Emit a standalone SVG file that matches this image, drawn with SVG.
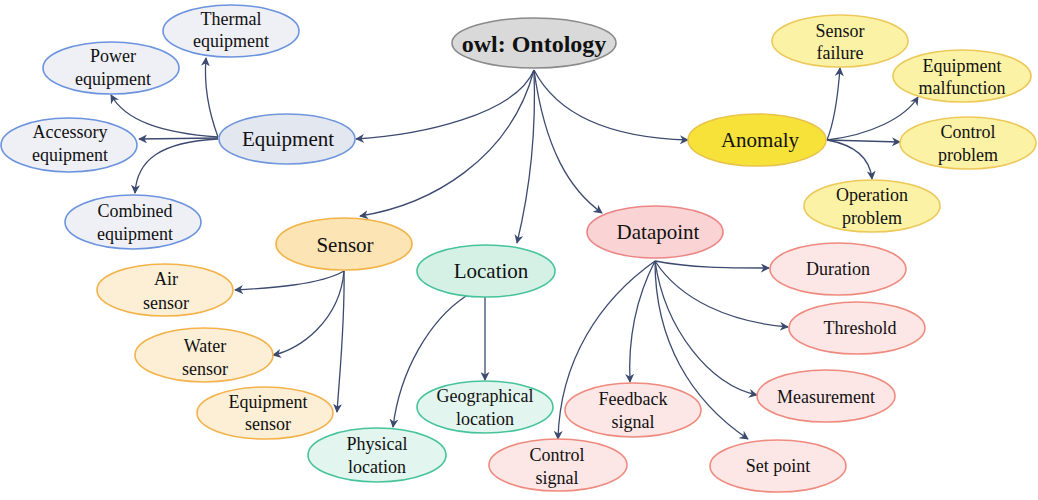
<svg xmlns="http://www.w3.org/2000/svg" width="1038" height="500" viewBox="0 0 1038 500">
<style>
ellipse{stroke-width:1.6}
.gray{fill:#d9d9d9;stroke:#8a8a8a}
.eq{fill:#e3e7f0;stroke:#7096dc}
.eqs{fill:#eef0f6;stroke:#6b93de}
.an{fill:#f7e23a;stroke:#e9c44a}
.ans{fill:#fbf2a6;stroke:#edc95a}
.se{fill:#fde4b5;stroke:#f2b347}
.ses{fill:#fdefd6;stroke:#f3b24a}
.lo{fill:#d5f1e6;stroke:#47c39c}
.los{fill:#e2f5ee;stroke:#47c39c}
.da{fill:#fad4d4;stroke:#ec8585}
.das{fill:#fde6e6;stroke:#ef8a7e}
.c path{fill:none;stroke:#3b4a6e;stroke-width:1.3;marker-end:url(#ah)}
</style>
<defs>
<marker id="ah" viewBox="0 0 10 10" refX="9" refY="5" markerWidth="9" markerHeight="9" markerUnits="userSpaceOnUse" orient="auto">
<path d="M0,0 L10,5 L0,10 L3,5 z" fill="#3b4a6e"/>
</marker>
</defs>
<g id="connectors" class="c">
<path d="M534,70 C515,115 420,135 356,139"/>
<path d="M534,70 C510,160 430,205 360,216"/>
<path d="M534,70 C537,150 525,210 517,243"/>
<path d="M534,70 C545,150 570,190 602,213"/>
<path d="M534,70 C560,120 620,138 688,140"/>
<path d="M218,137 C208,110 204,82 206,58"/>
<path d="M218,137 C160,133 125,120 111,95"/>
<path d="M218,138 L139,139"/>
<path d="M218,139 C160,142 137,160 135,193"/>
<path d="M827,140 C835,120 838,95 840,68"/>
<path d="M827,140 C870,135 905,118 918,97"/>
<path d="M827,140 L900,142"/>
<path d="M827,140 C855,145 870,158 872,179"/>
<path d="M344,271 C320,285 270,288 235,290"/>
<path d="M344,271 C340,320 300,350 273,355"/>
<path d="M344,271 C345,320 340,370 337,412"/>
<path d="M485,297 L485,380"/>
<path d="M466,296 C430,320 400,370 393,427"/>
<path d="M655,261 C690,268 730,268 769,268"/>
<path d="M655,261 C680,300 730,322 788,327"/>
<path d="M655,261 C665,330 710,385 757,395"/>
<path d="M655,261 C655,340 690,400 748,439"/>
<path d="M655,261 C635,300 628,340 630,382"/>
<path d="M655,261 C600,300 560,360 558,439"/>
</g>
<g font-family="'Liberation Serif', 'Times New Roman', Times, serif" font-weight="normal" font-style="normal" text-anchor="middle" fill="#111" font-size="18">
<g id="ontology"><ellipse class="gray" cx="534" cy="43" rx="82" ry="25"/><text x="534" y="52" font-size="24" font-weight="bold">owl: Ontology</text></g>
<g id="equipment"><ellipse class="eq" cx="287" cy="139" rx="68" ry="25"/><text font-size="21" x="288" y="146">Equipment</text></g>
<g id="thermal"><ellipse class="eqs" cx="231" cy="31" rx="68" ry="26"/><text x="231" y="25">Thermal</text><text x="231" y="47">equipment</text></g>
<g id="power"><ellipse class="eqs" cx="111" cy="68" rx="68" ry="26"/><text x="113" y="62">Power</text><text x="113" y="85">equipment</text></g>
<g id="accessory"><ellipse class="eqs" cx="69" cy="145" rx="68" ry="27"/><text x="70" y="138">Accessory</text><text x="70" y="161">equipment</text></g>
<g id="combined"><ellipse class="eqs" cx="133" cy="222" rx="68" ry="27"/><text x="135" y="217">Combined</text><text x="135" y="240">equipment</text></g>
<g id="anomaly"><ellipse class="an" cx="757" cy="140" rx="69" ry="26"/><text font-size="21" x="760" y="147">Anomaly</text></g>
<g id="sensorfailure"><ellipse class="ans" cx="840" cy="41" rx="68" ry="26"/><text x="840" y="37">Sensor</text><text x="840" y="59">failure</text></g>
<g id="malfunction"><ellipse class="ans" cx="962" cy="76" rx="69" ry="26"/><text x="962" y="72">Equipment</text><text x="962" y="94">malfunction</text></g>
<g id="controlproblem"><ellipse class="ans" cx="968" cy="143" rx="68" ry="26"/><text x="968" y="138">Control</text><text x="968" y="161">problem</text></g>
<g id="operation"><ellipse class="ans" cx="872" cy="206" rx="68" ry="26"/><text x="872" y="201">Operation</text><text x="872" y="224">problem</text></g>
<g id="sensor"><ellipse class="se" cx="344" cy="244" rx="68" ry="26"/><text font-size="21" x="345" y="252">Sensor</text></g>
<g id="airsensor"><ellipse class="ses" cx="165" cy="290" rx="68" ry="26"/><text x="166" y="285">Air</text><text x="166" y="309">sensor</text></g>
<g id="watersensor"><ellipse class="ses" cx="204" cy="355" rx="69" ry="27"/><text x="205" y="352">Water</text><text x="205" y="375">sensor</text></g>
<g id="equipmentsensor"><ellipse class="ses" cx="265" cy="413" rx="68" ry="26"/><text x="268" y="408">Equipment</text><text x="268" y="430">sensor</text></g>
<g id="location"><ellipse class="lo" cx="486" cy="271" rx="69" ry="26"/><text font-size="21" x="491" y="278">Location</text></g>
<g id="geographical"><ellipse class="los" cx="485" cy="407" rx="68" ry="26"/><text x="485" y="402">Geographical</text><text x="485" y="425">location</text></g>
<g id="physical"><ellipse class="los" cx="377" cy="455" rx="69" ry="27"/><text x="377" y="450">Physical</text><text x="377" y="473">location</text></g>
<g id="datapoint"><ellipse class="da" cx="655" cy="232" rx="68" ry="26"/><text font-size="21" x="658" y="239">Datapoint</text></g>
<g id="duration"><ellipse class="das" cx="838" cy="269" rx="68" ry="26"/><text x="838" y="275">Duration</text></g>
<g id="threshold"><ellipse class="das" cx="857" cy="328" rx="68" ry="26"/><text x="860" y="334">Threshold</text></g>
<g id="measurement"><ellipse class="das" cx="826" cy="396" rx="69" ry="26"/><text x="826" y="403">Measurement</text></g>
<g id="setpoint"><ellipse class="das" cx="778" cy="466" rx="68" ry="26"/><text x="778" y="472">Set point</text></g>
<g id="feedback"><ellipse class="das" cx="633" cy="410" rx="68" ry="27"/><text x="633" y="405">Feedback</text><text x="633" y="428">signal</text></g>
<g id="controlsignal"><ellipse class="das" cx="558" cy="465" rx="69" ry="26"/><text x="557" y="461">Control</text><text x="557" y="484">signal</text></g>
</g>
</svg>
